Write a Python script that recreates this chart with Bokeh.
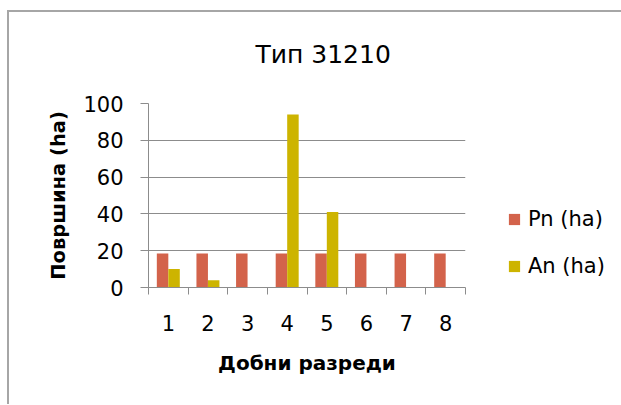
from bokeh.plotting import figure
from bokeh.models import (Range1d, FixedTicker, ColumnDataSource, Legend,
                          LegendItem, InlineStyleSheet)
from bokeh.transform import dodge
from bokeh.embed import file_html
from bokeh.resources import INLINE

# ---- data ----
categories = ["1", "2", "3", "4", "5", "6", "7", "8"]
positions = [1, 2, 3, 4, 5, 6, 7, 8]
pn_values = [18.5, 18.5, 18.5, 18.5, 18.5, 18.5, 18.5, 18.5]
an_values = [10, 4, 0, 94, 41, 0, 0, 0]
y_ticks = [0, 20, 40, 60, 80, 100]
series_names = ["Pn (ha)", "An (ha)"]
title_text = "Тип 31210"
x_title = "Добни разреди"
y_title = "Површина (ha)"

PN_COLOR = "#D3634B"
AN_COLOR = "#CDB400"
GRID = "#8c8c8c"
FONT = "DejaVu Sans"

source = ColumnDataSource(dict(x=positions, pn=pn_values, an=an_values))

p = figure(frame_width=317, frame_height=184, output_backend="svg", toolbar_location=None,
           x_range=Range1d(0.5, 8.5), y_range=Range1d(0, 100),
           min_border_left=139, min_border_right=156,
           min_border_top=91, min_border_bottom=117)
p.stylesheets = [InlineStyleSheet(css=":host { border-top: 2px solid #a6a6a6; border-left: 2px solid #a6a6a6; margin-top: 10px; margin-left: 7px; }")]
p.outline_line_color = None
p.background_fill_color = "white"
p.border_fill_color = "white"

r_pn = p.vbar(x=dodge("x", -0.145, range=p.x_range), top="pn", width=0.29,
              source=source, fill_color=PN_COLOR, line_color=None)
r_an = p.vbar(x=dodge("x", 0.145, range=p.x_range), top="an", width=0.29,
              source=source, fill_color=AN_COLOR, line_color=None)

# title (an empty second line lifts it higher above the plot)
p.title.text = title_text + "\n "
p.title.text_font = FONT
p.title.text_font_size = "25px"
p.title.text_font_style = "normal"
p.title.text_color = "black"
p.title.align = "left"
p.title.offset = 107
p.title.standoff = 12

# x axis
xa = p.xaxis[0]
xa.ticker = FixedTicker(ticks=positions, minor_ticks=[0.5 + i for i in range(9)])
xa.major_label_overrides = {pos: lab for pos, lab in zip(positions, categories)}
xa.major_tick_out = 0
xa.major_tick_in = 0
xa.minor_tick_out = 7
xa.minor_tick_in = 0
xa.minor_tick_line_color = GRID
xa.axis_line_color = GRID
xa.major_label_text_font = FONT
xa.major_label_text_font_size = "21px"
xa.major_label_text_color = "black"
xa.major_label_standoff = 20
xa.axis_label = x_title
xa.axis_label_text_font = FONT
xa.axis_label_text_font_size = "20px"
xa.axis_label_text_font_style = "bold"
xa.axis_label_text_color = "black"
xa.axis_label_standoff = 17

# y axis
ya = p.yaxis[0]
ya.ticker = FixedTicker(ticks=y_ticks)
ya.major_tick_out = 8
ya.major_tick_in = 0
ya.minor_tick_out = 0
ya.minor_tick_in = 0
ya.major_tick_line_color = GRID
ya.axis_line_color = GRID
ya.major_label_text_font = FONT
ya.major_label_text_font_size = "21px"
ya.major_label_text_color = "black"
ya.major_label_standoff = 17
ya.axis_label = y_title
ya.axis_label_text_font = FONT
ya.axis_label_text_font_size = "19.5px"
ya.axis_label_text_font_style = "bold"
ya.axis_label_text_color = "black"
ya.axis_label_standoff = 10

p.xgrid.grid_line_color = None
p.ygrid.grid_line_color = GRID
p.ygrid.ticker = FixedTicker(ticks=y_ticks)

legend = Legend(items=[LegendItem(label=series_names[0], renderers=[r_pn]),
                       LegendItem(label=series_names[1], renderers=[r_an])],
                location=(42, 9), orientation="vertical")
legend.border_line_color = None
legend.background_fill_alpha = 0
legend.padding = 0
legend.margin = 0
legend.glyph_width = 14
legend.glyph_height = 14
legend.label_standoff = 7
legend.spacing = 23
legend.label_text_font = FONT
legend.label_text_font_size = "21px"
legend.label_text_color = "black"
p.add_layout(legend, "right")

open("out.html", "w").write(file_html(p, INLINE))
